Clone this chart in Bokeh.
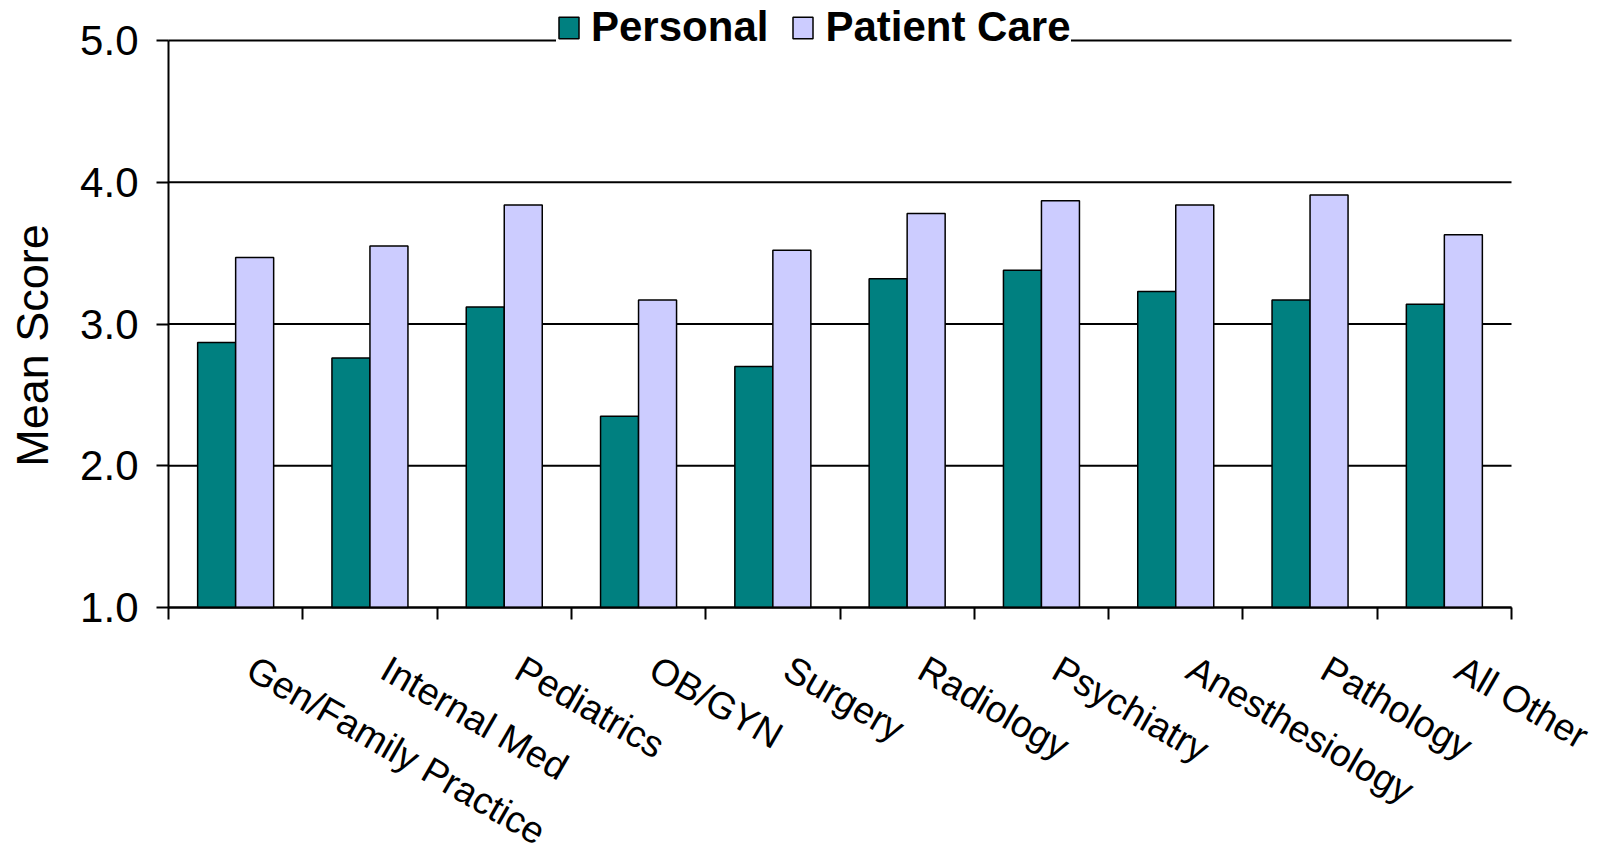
import math
from bokeh.plotting import figure
from bokeh.models import (ColumnDataSource, Range1d, FixedTicker, Label,
                          PrintfTickFormatter, LabelSet)
from bokeh.transform import dodge
from bokeh.core.properties import value
from bokeh.embed import file_html
from bokeh.resources import INLINE

categories = ["Gen/Family Practice", "Internal Med", "Pediatrics", "OB/GYN", "Surgery",
              "Radiology", "Psychiatry", "Anesthesiology", "Pathology", "All Other"]
personal = [2.87, 2.76, 3.12, 2.35, 2.70, 3.32, 3.38, 3.23, 3.17, 3.14]
patient_care = [3.47, 3.55, 3.84, 3.17, 3.52, 3.78, 3.87, 3.84, 3.91, 3.63]
y_ticks = [1.0, 2.0, 3.0, 4.0, 5.0]
series_names = ["Personal", "Patient Care"]
series_colors = ["#008080", "#CCCCFF"]
y_title = "Mean Score"

FONT = "Liberation Sans"
N = len(categories)
centers = [i + 0.5 for i in range(N)]   # category slot centres on a 0..N axis
edges = list(range(N + 1))              # category slot boundaries

src = ColumnDataSource(dict(cat=categories, pos=centers, personal=personal, patient=patient_care))

# layout (pixels): the plotting area covers the whole canvas; the value axis
# 1..5 spans y=40..607 and the category axis 0..N spans x=168..1511
W, H = 1608, 853
top_px, bottom_px = 40, 607
left_px, right_px = 168, 1511
unit_y = (bottom_px - top_px) / (y_ticks[-1] - y_ticks[0])
unit_x = (right_px - left_px) / N
y_lo = y_ticks[0] - (H - bottom_px) / unit_y
y_hi = y_ticks[-1] + top_px / unit_y
x_lo = edges[0] - left_px / unit_x
x_hi = edges[-1] + (W - right_px) / unit_x

p = figure(x_range=Range1d(x_lo, x_hi), y_range=Range1d(y_lo, y_hi),
           width=W, height=H, output_backend="svg", toolbar_location=None,
           min_border_left=0, min_border_right=0, min_border_top=0, min_border_bottom=0)
p.outline_line_color = None
p.background_fill_color = "white"
p.border_fill_color = "white"
p.xgrid.visible = False
p.ygrid.visible = False

# horizontal gridlines across the category span
p.segment(x0=edges[0], x1=edges[-1], y0=y_ticks, y1=y_ticks, line_color="black", line_width=2)

bw = 0.283
p.vbar(x=dodge("pos", -bw / 2), top="personal", bottom=y_ticks[0], width=bw,
       source=src, fill_color=series_colors[0], line_color="black", line_width=1.5,
       legend_label=series_names[0])
p.vbar(x=dodge("pos", bw / 2), top="patient", bottom=y_ticks[0], width=bw,
       source=src, fill_color=series_colors[1], line_color="black", line_width=1.5,
       legend_label=series_names[1])

# y axis, drawn at the first category boundary
yax = p.yaxis[0]
yax.fixed_location = edges[0]
yax.ticker = FixedTicker(ticks=y_ticks)
yax.bounds = (y_ticks[0], y_ticks[-1])
yax.formatter = PrintfTickFormatter(format="%.1f")
yax.major_label_text_font = FONT
yax.major_label_text_font_size = "42px"
yax.major_label_text_color = "black"
yax.major_label_standoff = 18
yax.major_tick_out = 12
yax.major_tick_in = 0
yax.minor_tick_line_color = None
yax.axis_line_color = "black"
yax.axis_line_width = 2
yax.major_tick_line_color = "black"
yax.major_tick_line_width = 2

p.add_layout(Label(x=32, y=H - 345, x_units="screen", y_units="screen", text=y_title,
                   angle=math.pi / 2, text_align="center", text_baseline="alphabetic",
                   text_font=FONT, text_font_size="45px", text_color="black"))

# x axis at value 1.0: tick marks at category boundaries, no numeric labels
xax = p.xaxis[0]
xax.fixed_location = y_ticks[0]
xax.bounds = (edges[0], edges[-1])
xax.ticker = FixedTicker(ticks=edges)
xax.major_label_text_color = None
xax.major_tick_out = 12
xax.major_tick_in = 0
xax.major_tick_line_color = "black"
xax.major_tick_line_width = 2
xax.minor_tick_line_color = None
xax.axis_line_color = "black"
xax.axis_line_width = 2

# category labels
labels = LabelSet(x="pos", y=y_ticks[0], text="cat", source=src,
                  x_offset=25, y_offset=-40, angle=-0.524,
                  text_align="left", text_baseline="top",
                  text_font=value(FONT), text_font_size="37.5px", text_color="black")
p.add_layout(labels)

# legend
lg = p.legend[0]
lg.orientation = "horizontal"
lg.location = (556, 802)
lg.label_text_font = FONT
lg.label_text_font_size = "42px"
lg.label_text_font_style = "bold"
lg.label_text_color = "black"
lg.glyph_width = 25
lg.glyph_height = 27
lg.label_standoff = 10
lg.spacing = 22
lg.padding = 15
lg.margin = 0
lg.border_line_color = None
lg.background_fill_color = "white"
lg.background_fill_alpha = 1.0

open("out.html", "w").write(file_html(p, INLINE))
